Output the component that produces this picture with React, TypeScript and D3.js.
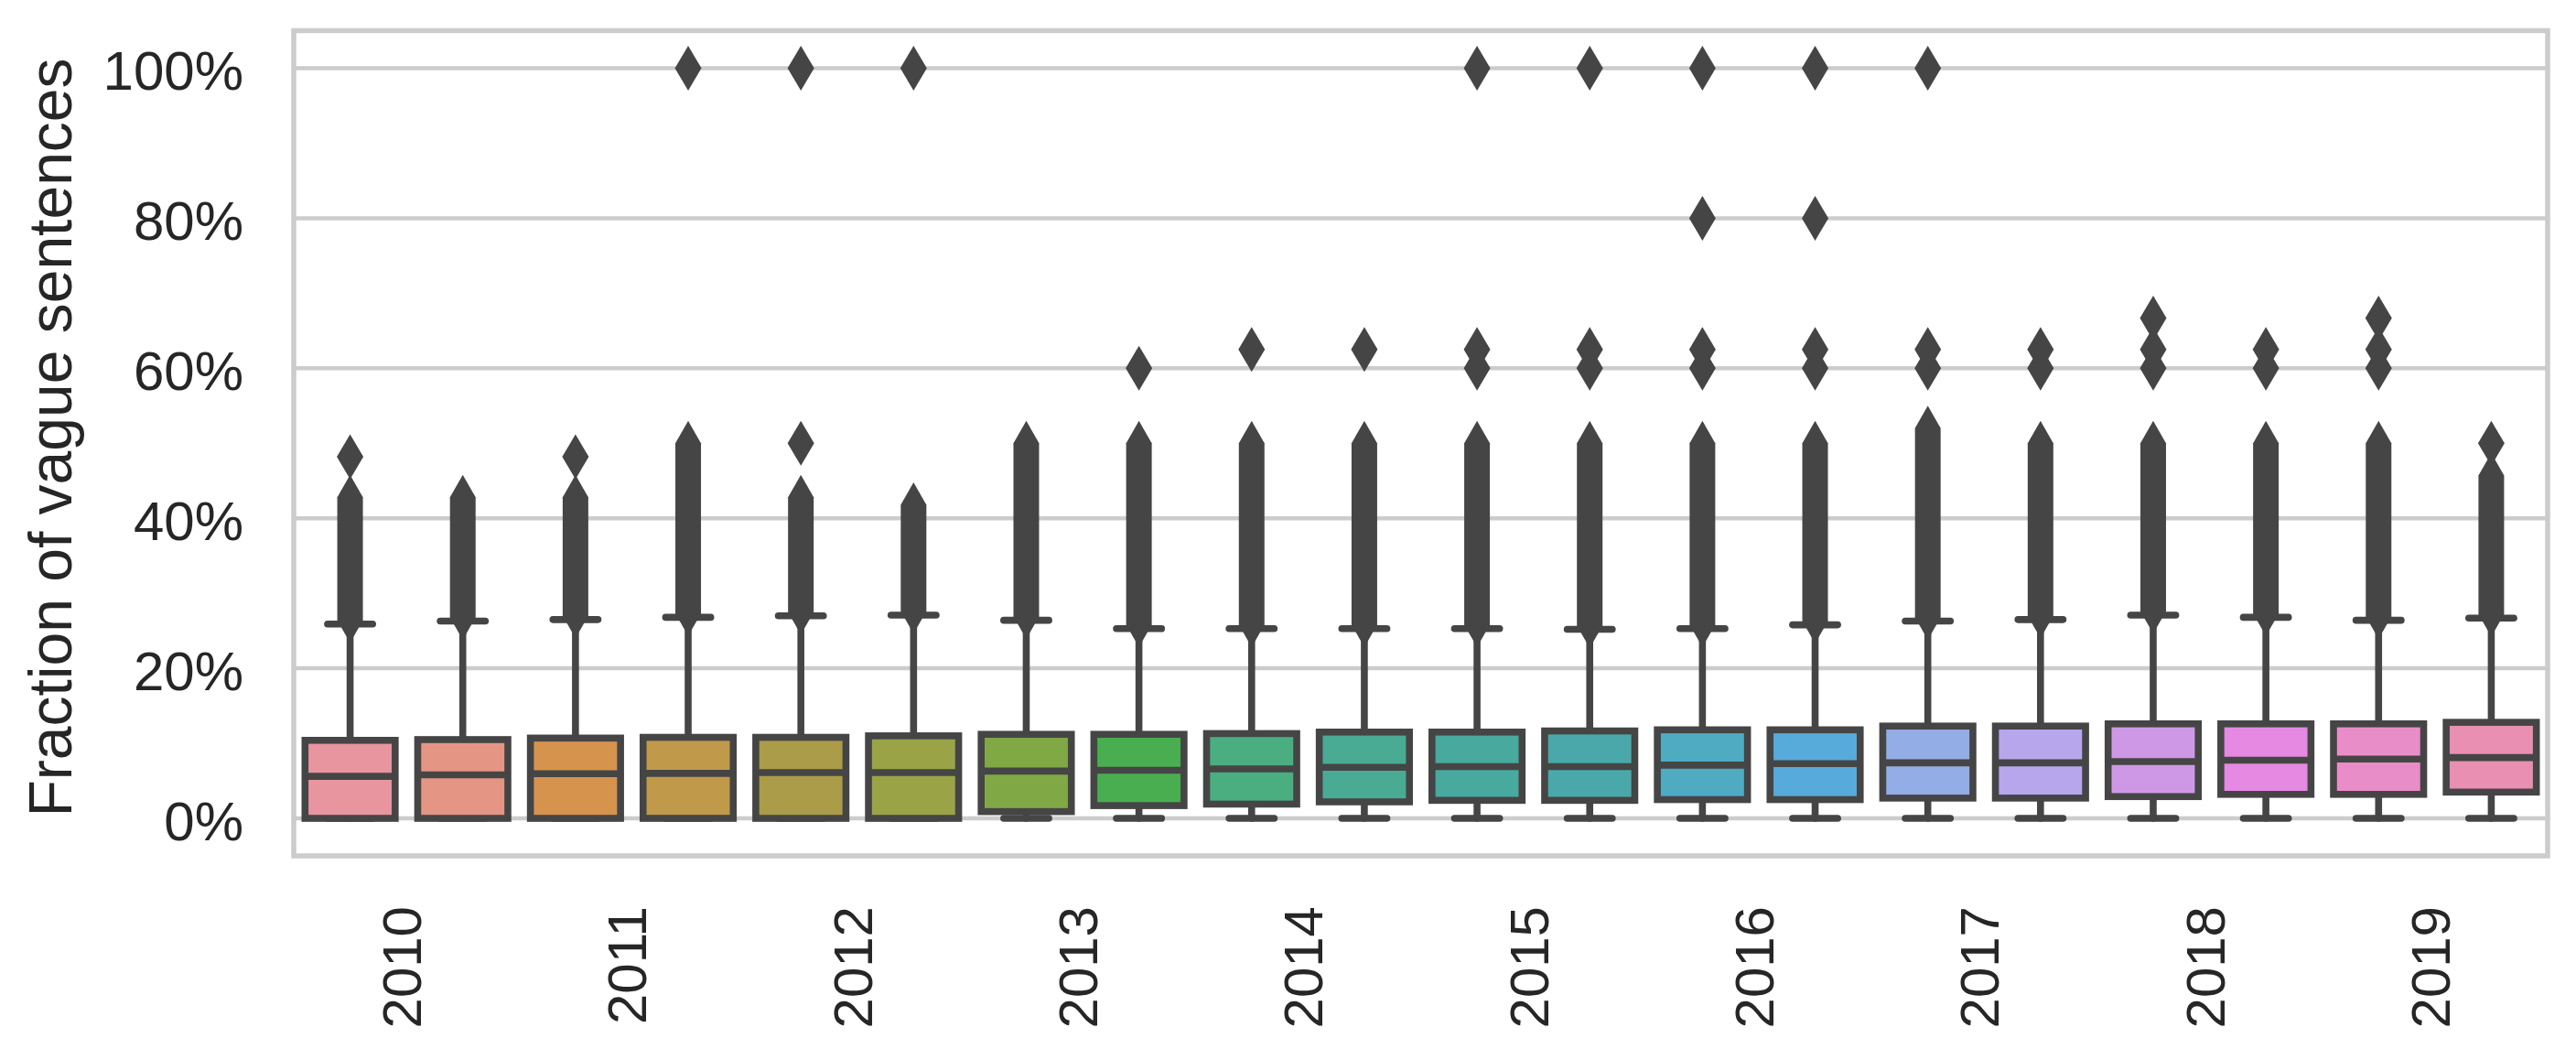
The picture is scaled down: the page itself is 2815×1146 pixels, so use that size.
import React from 'react';
import * as d3 from 'd3';

// ---------- data ----------
const periods = [
  '2010 H1', '2010 H2', '2011 H1', '2011 H2', '2012 H1', '2012 H2', '2013 H1', '2013 H2',
  '2014 H1', '2014 H2', '2015 H1', '2015 H2', '2016 H1', '2016 H2', '2017 H1', '2017 H2',
  '2018 H1', '2018 H2', '2019 H1', '2019 H2',
];
const yearLabels = ['2010', '2011', '2012', '2013', '2014', '2015', '2016', '2017', '2018', '2019'];

const q1 = [0, 0, 0, 0, 0, 0, 0.009, 0.017, 0.019, 0.022, 0.024, 0.024, 0.025, 0.025, 0.027, 0.027, 0.029, 0.032, 0.032, 0.035];
const medians = [0.056, 0.058, 0.0596, 0.060, 0.061, 0.061, 0.063, 0.064, 0.066, 0.068, 0.069, 0.069, 0.071, 0.073, 0.074, 0.074, 0.0756, 0.0776, 0.079, 0.081];
const q3 = [0.104, 0.105, 0.107, 0.108, 0.108, 0.110, 0.112, 0.112, 0.113, 0.115, 0.115, 0.1165, 0.118, 0.118, 0.123, 0.123, 0.126, 0.126, 0.126, 0.128];
const whiskerLow = [0, 0, 0, 0, 0, 0, 0, 0, 0, 0, 0, 0, 0, 0, 0, 0, 0, 0, 0, 0];
const whiskerHigh = [0.259, 0.263, 0.265, 0.268, 0.270, 0.271, 0.264, 0.253, 0.253, 0.253, 0.253, 0.252, 0.253, 0.258, 0.263, 0.265, 0.271, 0.268, 0.264, 0.267];

// dense run of outliers just above the upper whisker: lowest and highest value
const denseFlierLow = [0.264, 0.268, 0.270, 0.273, 0.275, 0.276, 0.269, 0.258, 0.258, 0.258, 0.258, 0.257, 0.258, 0.263, 0.268, 0.270, 0.276, 0.273, 0.269, 0.272];
const denseFlierHigh = [0.428, 0.428, 0.428, 0.50, 0.428, 0.418, 0.50, 0.50, 0.50, 0.50, 0.50, 0.50, 0.50, 0.50, 0.52, 0.50, 0.50, 0.50, 0.50, 0.457];
// isolated outliers
const extraFliers: number[][] = [
  [0.482], [], [0.482], [1.0], [0.50, 1.0], [1.0], [], [0.60],
  [0.625], [0.625], [0.60, 0.625, 1.0], [0.60, 0.625, 1.0], [0.60, 0.625, 0.80, 1.0], [0.60, 0.625, 0.80, 1.0],
  [0.60, 0.625, 1.0], [0.60, 0.625], [0.60, 0.625, 0.667], [0.60, 0.625], [0.60, 0.625, 0.667], [0.50],
];

const boxColors = [
  '#e8959f', '#e59584', '#d6934d', '#c09a4a', '#aa9c48', '#9aa446', '#80a845', '#49ae50',
  '#4aae80', '#49ab94', '#48a99e', '#4aa8aa', '#4eabc2', '#56abdb', '#93ade6', '#b7a6ec',
  '#cf98e6', '#e589e2', '#e98dc8', '#e88fb2',
];

const yTicks = [0, 0.2, 0.4, 0.6, 0.8, 1.0];

// ---------- layout ----------
const W = 2815;
const H = 1146;
const plotLeft = 321;
const plotRight = 2784;
const plotTop = 33.5;
const plotBottom = 935;
const gray = '#454545';
const gridColor = '#cccccc';
const textColor = '#262626';
const font = '"Liberation Sans", Arial, Helvetica, sans-serif';
const lw = 7.6;
const diamondH = 49;
const diamondW = 29;

export default function App() {
  const x = d3.scaleBand<string>().domain(periods).range([plotLeft, plotRight]).paddingInner(0).paddingOuter(0);
  const y = d3.scaleLinear().domain([-0.05, 1.05]).range([plotBottom, plotTop]);
  const bw = x.bandwidth();
  const boxW = bw * 0.8;
  const capW = boxW * 0.5;

  const diamond = (cx: number, cy: number) =>
    `M${cx},${cy - diamondH / 2}L${cx + diamondW / 2},${cy}L${cx},${cy + diamondH / 2}L${cx - diamondW / 2},${cy}Z`;

  const denseBand = (cx: number, lo: number, hi: number) => {
    const yl = y(lo);
    const yh = y(hi);
    const hw = diamondW / 2 - 0.5;
    return `M${cx},${yh - diamondH / 2}L${cx + hw},${yh}L${cx + hw},${yl}L${cx},${yl + diamondH / 2}L${cx - hw},${yl}L${cx - hw},${yh}Z`;
  };

  const tickFont = 60;
  const labelFont = 66;

  return (
    <svg width={W} height={H} style={{ position: 'absolute', left: 0, top: 0, display: 'block', background: '#fff' }}>
      <rect x={0} y={0} width={W} height={H} fill="#ffffff" />
      {/* grid */}
      {yTicks.map((t) => (
        <line key={`g${t}`} x1={plotLeft} x2={plotRight} y1={y(t)} y2={y(t)} stroke={gridColor} strokeWidth={4.5} />
      ))}
      {/* boxes */}
      {periods.map((p, i) => {
        const cx = (x(p) as number) + bw / 2;
        const left = cx - boxW / 2;
        return (
          <g key={p}>
            <line x1={cx} x2={cx} y1={y(q3[i])} y2={y(whiskerHigh[i])} stroke={gray} strokeWidth={lw} strokeLinecap="round" />
            <line x1={cx} x2={cx} y1={y(q1[i])} y2={y(whiskerLow[i])} stroke={gray} strokeWidth={lw} strokeLinecap="round" />
            <line x1={cx - capW / 2} x2={cx + capW / 2} y1={y(whiskerHigh[i])} y2={y(whiskerHigh[i])} stroke={gray} strokeWidth={lw} strokeLinecap="round" />
            <line x1={cx - capW / 2} x2={cx + capW / 2} y1={y(whiskerLow[i])} y2={y(whiskerLow[i])} stroke={gray} strokeWidth={lw} strokeLinecap="round" />
            <rect x={left} y={y(q3[i])} width={boxW} height={y(q1[i]) - y(q3[i])} fill={boxColors[i]} stroke={gray} strokeWidth={lw} />
            <line x1={left} x2={left + boxW} y1={y(medians[i])} y2={y(medians[i])} stroke={gray} strokeWidth={lw} />
          </g>
        );
      })}
      {/* outliers */}
      {periods.map((p, i) => {
        const cx = (x(p) as number) + bw / 2;
        return (
          <g key={`f${p}`} fill={gray}>
            <path d={denseBand(cx, denseFlierLow[i], denseFlierHigh[i])} />
            {extraFliers[i].map((v, j) => (
              <path key={j} d={diamond(cx, y(v))} />
            ))}
          </g>
        );
      })}
      {/* frame */}
      <rect x={plotLeft} y={plotTop} width={plotRight - plotLeft} height={plotBottom - plotTop} fill="none" stroke={gridColor} strokeWidth={5.5} />
      {/* y tick labels */}
      {yTicks.map((t) => (
        <text key={`yt${t}`} x={266} y={y(t) + tickFont * 0.358 + 2} textAnchor="end" fontFamily={font} fontSize={tickFont} fill={textColor}>
          {d3.format('.0%')(t)}
        </text>
      ))}
      {/* x tick labels: at the boundary between the two halves of each year */}
      {yearLabels.map((lab, k) => {
        const tx = x(periods[2 * k + 1]) as number;
        return (
          <text key={lab} transform={`translate(${tx + 16},990) rotate(-90)`} textAnchor="end" fontFamily={font} fontSize={tickFont} fill={textColor}>
            {lab}
          </text>
        );
      })}
      {/* y axis label */}
      <text transform={`translate(78,478) rotate(-90)`} textAnchor="middle" fontFamily={font} fontSize={labelFont} fill={textColor}>
        Fraction of vague sentences
      </text>
    </svg>
  );
}
